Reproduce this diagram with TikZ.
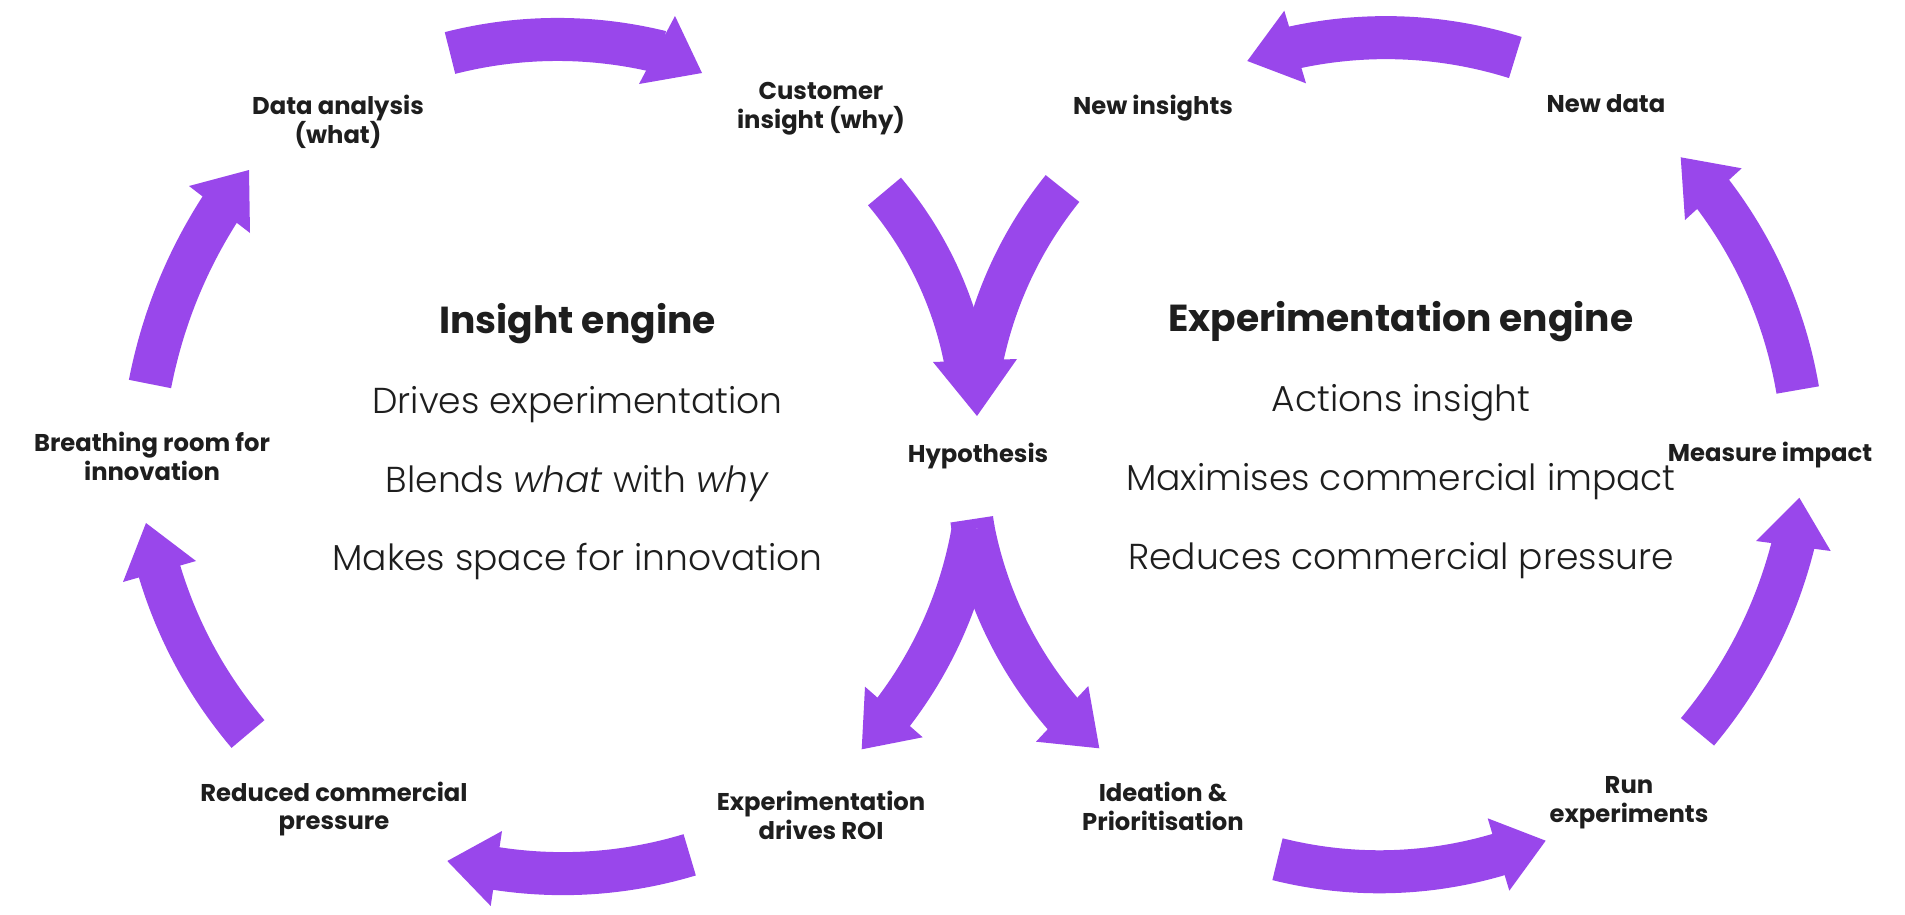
\documentclass[tikz,border=0pt]{standalone}
\usepackage{fontspec}
\setmainfont{Poppins}
\newfontfamily\lightfont{Poppins}[UprightFont=* Light, ItalicFont=* Light Italic]
\definecolor{ac}{HTML}{9947EB}
\definecolor{tx}{HTML}{1E1E1E}
\begin{document}
\begin{tikzpicture}[x=0.01cm,y=-0.01cm,
  shaft/.style={draw=ac,line width=0.43cm,line cap=butt,looseness=0.87},
  head/.style={fill=ac},
  lbl/.style={text=tx,font=\bfseries\fontsize{6.9}{8.2}\selectfont,align=center,inner sep=0},
  title/.style={text=tx,font=\bfseries\fontsize{10.7}{13}\selectfont,anchor=base,inner sep=0},
  body/.style={text=tx,font=\lightfont\fontsize{10.25}{12}\selectfont,anchor=base,inner sep=0}]
\useasboundingbox (0,0) rectangle (1905,915);

% labels
\node[lbl] (data) at (338,121.5) {Data analysis\\(what)};
\node[lbl] (cust) at (821,109) {Customer\\insight (why)};
\node[lbl] (newins) at (1153,108) {New insights};
\node[lbl] (newdata) at (1606,104) {New data};
\node[lbl] (breath) at (152,456) {Breathing room for\\innovation};
\node[lbl] (hyp) at (978,456.5) {Hypothesis};
\node[lbl] (meas) at (1770,455.5) {Measure impact};
\node[lbl] (red) at (334,809) {Reduced commercial\\pressure};
\node[lbl] (roi) at (821,815.5) {Experimentation\\drives ROI};
\node[lbl] (idea) at (1163,806.5) {Ideation \&\\Prioritisation};
\node[lbl] (run) at (1629,803) {Run\\experiments};

% engine texts
\node[title] (ie) at (577.5,333) {Insight engine};
\node[body] (l1) at (577.5,413) {Drives experimentation};
\node[body] (l2) at (577.5,492) {Blends \textit{what} with \textit{why}};
\node[body] (l3) at (577.5,570) {Makes space for innovation};
\node[title] (ee) at (1401,331) {Experimentation engine};
\node[body] (r1) at (1401,411) {Actions insight};
\node[body] (r2) at (1401,490) {Maximises commercial impact};
\node[body] (r3) at (1401,569) {Reduces commercial pressure};

% arrow coordinates
\coordinate (a1t) at (450,53);   \coordinate (a1b) at (661,52);
\coordinate (a1x) at (702,73);   \coordinate (a1p) at (675,16);   \coordinate (a1q) at (639,84);
\coordinate (a2t) at (150,384);  \coordinate (a2b) at (222,206);
\coordinate (a2x) at (249,170);  \coordinate (a2p) at (189,186);  \coordinate (a2q) at (250,233);
\coordinate (a8t) at (248,734);  \coordinate (a8b) at (158.4,567.6);
\coordinate (a8x) at (146,523);  \coordinate (a8p) at (123,582);  \coordinate (a8q) at (196,561);
\coordinate (a5t) at (689.7,854.8); \coordinate (a5b) at (492.3,867.9);
\coordinate (a5x) at (447.3,861); \coordinate (a5p) at (502,831); \coordinate (a5q) at (490.7,906);
\coordinate (vlt) at (884.5,191.5); \coordinate (vlb) at (966.5,366);
\coordinate (vrt) at (1062.5,188.5); \coordinate (vrb) at (980.5,366);
\coordinate (vx) at (977,416); \coordinate (vp) at (933,362); \coordinate (vq) at (1017,359);
\coordinate (lt) at (971.7,519.3); \coordinate (ls) at (973.2,529.2);
\coordinate (llb) at (891.2,715); \coordinate (lrb) at (1065.1,716.5);
\coordinate (llx) at (861.7,749.3); \coordinate (llp) at (865,686.7); \coordinate (llq) at (922.7,737.3);
\coordinate (lrx) at (1099.3,748.3); \coordinate (lrp) at (1088.3,686); \coordinate (lrq) at (1036,741.7);
\coordinate (a9t) at (1515.3,57.5); \coordinate (a9b) at (1291.4,48.1);
\coordinate (a9x) at (1247.3,61); \coordinate (a9p) at (1284.3,10.7); \coordinate (a9q) at (1306,83.3);
\coordinate (a10t) at (1797.7,390); \coordinate (a10b) at (1710.7,191.2);
\coordinate (a10x) at (1680.7,157.3); \coordinate (a10p) at (1741.7,168.3); \coordinate (a10q) at (1685,220);
\coordinate (a11t) at (1697.5,731.8); \coordinate (a11b) at (1793.8,542);
\coordinate (a11x) at (1799.3,497.7); \coordinate (a11p) at (1756,541); \coordinate (a11q) at (1830.7,551);
\coordinate (a12t) at (1277.5,859.2); \coordinate (a12b) at (1502.3,853.4);
\coordinate (a12x) at (1545.7,840.7); \coordinate (a12p) at (1487.7,818.3); \coordinate (a12q) at (1509.3,890.7);

% left loop
\draw[shaft] (a1t) to[bend left=14] (a1b);
\fill[head] (a1x) -- (a1p) -- (a1q) -- cycle;
\draw[shaft] (a2t) to[bend left=11] (a2b);
\fill[head] (a2x) -- (a2p) -- (a2q) -- cycle;
\draw[shaft] (a8t) to[bend left=12] (a8b);
\fill[head] (a8x) -- (a8p) -- (a8q) -- cycle;
\draw[shaft] (a5t) to[bend left=13] (a5b);
\fill[head] (a5x) -- (a5p) -- (a5q) -- cycle;

% V into hypothesis
\draw[shaft] (vlt) to[bend left=15] (vlb);
\draw[shaft] (vrt) to[bend right=14] (vrb);
\fill[head] (vx) -- (vp) -- (vq) -- cycle;

% split out of hypothesis
\draw[shaft] (lt) -- (ls);
\draw[shaft] (ls) to[bend left=14] (llb);
\draw[shaft] (ls) to[bend right=15] (lrb);
\fill[head] (llx) -- (llp) -- (llq) -- cycle;
\fill[head] (lrx) -- (lrp) -- (lrq) -- cycle;

% right loop
\draw[shaft] (a9t) to[bend right=15] (a9b);
\fill[head] (a9x) -- (a9p) -- (a9q) -- cycle;
\draw[shaft] (a10t) to[bend right=14] (a10b);
\fill[head] (a10x) -- (a10p) -- (a10q) -- cycle;
\draw[shaft] (a11t) to[bend right=13] (a11b);
\fill[head] (a11x) -- (a11p) -- (a11q) -- cycle;
\draw[shaft] (a12t) to[bend right=15.5] (a12b);
\fill[head] (a12x) -- (a12p) -- (a12q) -- cycle;
\end{tikzpicture}
\end{document}
